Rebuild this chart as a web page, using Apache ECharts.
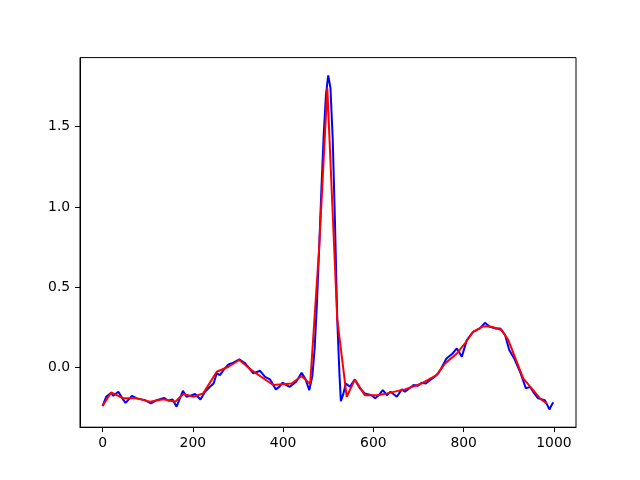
<!DOCTYPE html>
<html>
<head>
<meta charset="utf-8">
<script src="https://cdn.jsdelivr.net/npm/echarts@6/dist/echarts.min.js"></script>
<style>html,body{margin:0;padding:0;background:#fff;}#c{width:640px;height:480px;}</style>
</head>
<body>
<div id="c"></div>
<script>
const blueX = [0,8,19,24,35,43,51,65,76,94,107,120,136,146,155,164,178,186,196,205,217,227,238,246,253,260,270,279,290,303,316,334,349,360,371,384,392,399,407,415,429,441,449,458,465,470,475,480,485,490,495,500,505,510,515,520,525,528,533,539,548,559,570,581,596,604,613,621,630,638,652,663,670,680,689,698,707,716,726,735,744,748,762,775,785,796,807,821,836,847,858,870,881,892,901,912,925,938,947,954,965,980,990,997,999];
const blueY = [-0.241,-0.183,-0.158,-0.177,-0.152,-0.19,-0.221,-0.177,-0.193,-0.204,-0.225,-0.204,-0.19,-0.208,-0.2,-0.245,-0.146,-0.183,-0.175,-0.166,-0.2,-0.152,-0.121,-0.1,-0.037,-0.048,-0.01,0.019,0.03,0.05,0.025,-0.037,-0.021,-0.059,-0.075,-0.137,-0.12,-0.094,-0.11,-0.121,-0.09,-0.034,-0.069,-0.142,-0.05,0.12,0.4,0.75,1.12,1.45,1.7,1.82,1.74,1.42,0.9,0.3,-0.05,-0.21,-0.17,-0.1,-0.121,-0.075,-0.13,-0.162,-0.173,-0.193,-0.17,-0.142,-0.173,-0.152,-0.183,-0.137,-0.152,-0.13,-0.11,-0.115,-0.096,-0.1,-0.079,-0.06,-0.037,-0.017,0.056,0.085,0.118,0.066,0.17,0.222,0.243,0.278,0.253,0.243,0.243,0.201,0.108,0.056,-0.027,-0.131,-0.121,-0.152,-0.193,-0.204,-0.262,-0.224,-0.218];
const redX = [0,19,46,76,105,135,161,179,201,223,253,279,303,330,378,419,441,460,480,498,520,541,559,581,611,630,670,707,740,759,785,803,821,844,862,884,899,932,954,969,984];
const redY = [-0.241,-0.156,-0.193,-0.193,-0.214,-0.198,-0.214,-0.166,-0.183,-0.162,-0.027,0.004,0.046,-0.017,-0.11,-0.1,-0.054,-0.104,0.75,1.74,0.3,-0.183,-0.075,-0.173,-0.173,-0.162,-0.137,-0.1,-0.048,0.025,0.087,0.15,0.222,0.257,0.253,0.233,0.17,-0.069,-0.142,-0.193,-0.225];
const xTicks = [0,200,400,600,800,1000];
const yTicks = [0,0.5,1.0,1.5];

const chart = echarts.init(document.getElementById('c'), null, {renderer:'canvas'});
const font = {fontFamily:'DejaVu Sans', fontSize:13.9, color:'#000'};
chart.setOption({
  animation:false,
  backgroundColor:'#fff',
  grid:{left:80, right:64, top:57.6, bottom:52.8, show:true, borderColor:'#000', borderWidth:1, backgroundColor:'transparent'},
  xAxis:{type:'value', min:-49.95, max:1048.95,
    axisLine:{show:true, onZero:false, lineStyle:{color:'#000', width:1}},
    axisTick:{show:true, length:4.9, customValues:xTicks, lineStyle:{color:'#000', width:1}},
    axisLabel:Object.assign({customValues:xTicks, margin:9, formatter:v=>String(Math.round(v))}, font),
    splitLine:{show:false}},
  yAxis:{type:'value', min:-0.3727, max:1.9307,
    axisLine:{show:true, onZero:false, lineStyle:{color:'#000', width:1}},
    axisTick:{show:true, length:4.9, customValues:yTicks, lineStyle:{color:'#000', width:1}},
    axisLabel:Object.assign({customValues:yTicks, margin:9.8, formatter:v=>v.toFixed(1)}, font),
    splitLine:{show:false}},
  series:[
    {type:'line', data:blueX.map((x,i)=>[x,blueY[i]]), showSymbol:false, symbol:'none', lineStyle:{color:'#0000ff', width:2}, itemStyle:{color:'#0000ff'}, z:2},
    {type:'line', data:redX.map((x,i)=>[x,redY[i]]), showSymbol:false, symbol:'none', lineStyle:{color:'#ff0000', width:2}, itemStyle:{color:'#ff0000'}, z:3}
  ]
});
</script>
</body>
</html>
